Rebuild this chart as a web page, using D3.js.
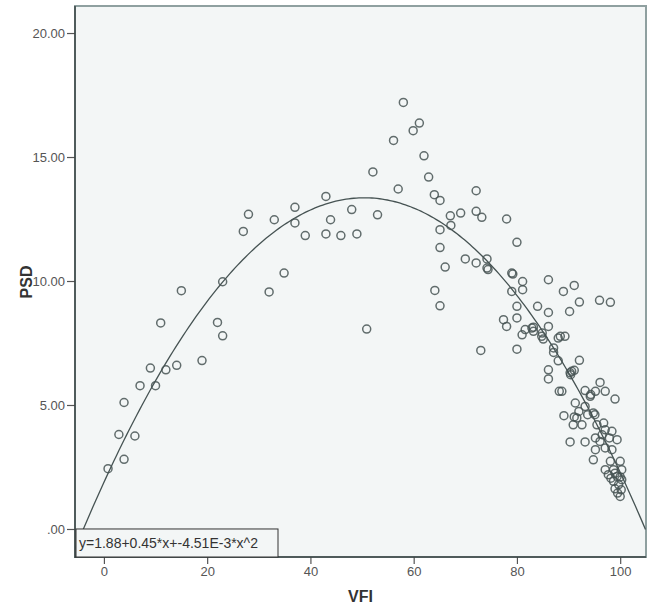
<!DOCTYPE html>
<html>
<head>
<meta charset="utf-8">
<script src="https://cdnjs.cloudflare.com/ajax/libs/d3/7.8.5/d3.min.js"></script>
<style>
body { margin: 0; background: #fff; }
svg text { font-family: "Liberation Sans", Arial, sans-serif; }
</style>
</head>
<body>
<div></div>
<script>
var vfi = [
	0.8, 3.9, 2.9, 6.0, 3.9, 7.0, 10.0, 9.0, 12.0, 14.1, 19.0, 11.0, 22.0, 23.0, 15.0, 23.0,
	32.0, 34.9, 27.0, 28.0, 33.0, 37.0, 37.0, 39.0, 43.0, 43.0, 43.9, 45.9, 49.0, 48.0,
	53.0, 52.1, 57.0, 56.1, 58.0, 59.9, 61.1, 62.0, 62.9, 64.0, 65.1, 67.1, 69.1, 67.2,
	65.1, 65.1, 66.1, 64.1, 65.1, 72.1, 72.1, 73.2, 78.0, 80.0, 70.0, 72.1, 74.2, 74.2,
	74.4, 79.0, 79.2, 81.1, 79.0, 81.1, 86.1, 89.0, 91.1, 92.1, 96.0, 98.1, 80.0, 84.0,
	90.2, 86.1, 50.9, 73.0, 77.4, 78.0, 80.0, 81.6, 82.9, 83.2, 84.9, 86.1, 85.1, 88.0,
	89.3, 87.1, 80.0, 87.1, 88.0, 92.1, 90.6, 90.3, 91.1, 86.1, 86.1, 90.4, 88.2, 93.2,
	94.3, 96.1, 97.1, 95.2, 99.0, 91.3, 93.2, 92.0, 89.1, 91.1, 93.7, 95.1, 81.0, 84.8,
	88.4, 83.2, 88.7, 94.2,
	91.6, 94.8, 90.9, 92.6, 95.5, 96.8, 98.4, 97.1, 96.5, 90.3, 93.2, 95.2, 96.1, 97.9,
	99.4, 95.2, 97.1, 98.4, 94.8, 98.1, 100.0, 97.1, 98.7, 100.3, 97.7, 99.4, 100.3, 98.7,
	99.7, 100.2, 100.0, 99.0, 100.0, 99.5, 98.2, 99.0
];
var psd = [
	2.43, 2.81, 3.81, 3.75, 5.10, 5.78, 5.78, 6.49, 6.42, 6.60, 6.79, 8.31, 8.33, 7.79, 9.61, 9.97,
	9.56, 10.32, 12.00, 12.69, 12.47, 12.97, 12.34, 11.83, 13.41, 11.90, 12.47, 11.83, 11.90, 12.88,
	12.67, 14.40, 13.71, 15.67, 17.20, 16.06, 16.37, 15.05, 14.19, 13.48, 13.25, 12.63, 12.74, 12.24,
	12.07, 11.35, 10.56, 9.62, 9.00, 13.64, 12.81, 12.57, 12.50, 11.56, 10.89, 10.73, 10.89, 10.52,
	10.46, 10.32, 10.28, 9.98, 9.58, 9.65, 10.05, 9.58, 9.82, 9.15, 9.22, 9.14, 8.98, 8.98,
	8.77, 8.73, 8.06, 7.20, 8.44, 8.17, 8.51, 8.04, 8.10, 8.14, 7.90, 8.17, 7.66, 7.70,
	7.77, 7.30, 7.25, 7.12, 6.78, 6.80, 6.36, 6.30, 6.40, 6.42, 6.05, 6.22, 5.55, 5.58,
	5.42, 5.91, 5.55, 5.55, 5.24, 5.08, 4.94, 4.74, 4.57, 4.52, 4.61, 4.61, 7.83, 7.77,
	7.77, 7.97, 5.55, 5.35,
	4.48, 4.68, 4.20, 4.20, 4.20, 4.27, 3.94, 4.00, 3.80, 3.51, 3.51, 3.67, 3.53, 3.67,
	3.60, 3.20, 3.27, 3.20, 2.79, 2.73, 2.73, 2.39, 2.39, 2.39, 2.19, 2.12, 1.99, 1.92,
	1.79, 1.58, 1.31, 2.25, 2.10, 1.45, 2.05, 1.62
];

// label shows rounded coefficients; the drawn curve sits a bit higher
var fitCoef = [1.88, 0.455, -4.51e-3];
var fitLabel = "y=1.88+0.45*x+-4.51E-3*x^2";
var xTicks = [0, 20, 40, 60, 80, 100];
var yTicks = [0, 5, 10, 15, 20];
var xTitle = "VFI", yTitle = "PSD";

var svgContainer,
	width = 654,
	height = 615,
	plot = { left: 75, right: 646, top: 6, bottom: 557 },
	ink = "#465353";

function onLoad() {
	svgContainer = d3.select("div")
	.append("svg")
	.attr("width", width)
	.attr("height", height);

	var xScale = d3.scaleLinear().domain([-5.6, 105]).range([plot.left, plot.right]);
	var yScale = d3.scaleLinear().domain([-1.13, 21.09]).range([plot.bottom, plot.top]);

	// plot background and frame
	svgContainer.append("rect")
	.attr("x", plot.left)
	.attr("y", plot.top)
	.attr("width", plot.right - plot.left)
	.attr("height", plot.bottom - plot.top)
	.attr("fill", "#f3f6f6")
	.attr("stroke", "#8fa0a0")
	.attr("stroke-width", 2);

	svgContainer.append("clipPath").attr("id", "clip")
	.append("rect")
	.attr("x", plot.left)
	.attr("y", plot.top)
	.attr("width", plot.right - plot.left)
	.attr("height", plot.bottom - plot.top);

	drawAxes(xScale, yScale);
	drawPoints(xScale, yScale);
	drawFit(xScale, yScale);
	drawLegend(xScale, yScale);
	drawTitles();
}

function drawAxes(xScale, yScale) {
	var xAxis = d3.axisBottom(xScale).tickValues(xTicks).tickSize(7).tickPadding(3).tickFormat(d3.format("d"));
	var yAxis = d3.axisLeft(yScale).tickValues(yTicks).tickSize(8).tickPadding(2)
		.tickFormat(d => d === 0 ? ".00" : d.toFixed(2));

	var xg = svgContainer.append("g")
	.attr("transform", "translate(0," + plot.bottom + ")")
	.call(xAxis);
	var yg = svgContainer.append("g")
	.attr("transform", "translate(" + plot.left + ",0)")
	.call(yAxis);

	[xg, yg].forEach(g => {
		g.select(".domain").remove();
		g.selectAll(".tick line").attr("stroke", "#555").attr("stroke-width", 1.2);
		g.selectAll(".tick text")
		.attr("fill", "#555")
		.style("font-size", "13px")
		.style("font-family", "Liberation Sans, Arial, sans-serif");
	});

	svgContainer.append("line")
	.attr("x1", plot.left).attr("x2", plot.left)
	.attr("y1", plot.top).attr("y2", plot.bottom + 1)
	.attr("stroke", "#3a4444").attr("stroke-width", 1.5);
	svgContainer.append("line")
	.attr("x1", plot.left).attr("x2", plot.right)
	.attr("y1", plot.bottom).attr("y2", plot.bottom)
	.attr("stroke", "#3a4444").attr("stroke-width", 1.5);
}

function drawPoints(xScale, yScale) {
	var points = vfi.map((v, i) => ({ x: v, y: psd[i] }));
	svgContainer.append("g")
	.selectAll("circle")
	.data(points)
	.enter()
	.append("circle")
	.attr("cx", d => xScale(d.x))
	.attr("cy", d => yScale(d.y))
	.attr("r", 4)
	.attr("fill", "none")
	.attr("stroke", ink)
	.attr("stroke-opacity", 0.85)
	.attr("stroke-width", 1.5);
}

function drawFit(xScale, yScale) {
	var fit = x => fitCoef[0] + fitCoef[1] * x + fitCoef[2] * x * x;
	var xs = d3.range(xScale.domain()[0], xScale.domain()[1] + 0.01, 0.5);
	var line = d3.line().x(d => xScale(d)).y(d => yScale(fit(d)));
	svgContainer.append("path")
	.datum(xs)
	.attr("d", line)
	.attr("clip-path", "url(#clip)")
	.attr("fill", "none")
	.attr("stroke", ink)
	.attr("stroke-width", 1.3);
}

function drawLegend(xScale, yScale) {
	var top = yScale(0);
	var g = svgContainer.append("g");
	g.append("rect")
	.attr("x", plot.left + 1)
	.attr("y", top)
	.attr("width", 202)
	.attr("height", plot.bottom - top)
	.attr("fill", "#f3f6f6")
	.attr("stroke", "#333")
	.attr("stroke-width", 1);
	g.append("text")
	.attr("x", plot.left + 4)
	.attr("y", top + 19)
	.attr("fill", "#333")
	.style("font-size", "14px")
	.text(fitLabel);
}

function drawTitles() {
	svgContainer.append("text")
	.attr("x", (plot.left + plot.right) / 2)
	.attr("y", 602)
	.attr("text-anchor", "middle")
	.attr("fill", "#333")
	.style("font-size", "16px")
	.style("font-weight", "bold")
	.text(xTitle);

	svgContainer.append("text")
	.attr("transform", "translate(32,282) rotate(-90)")
	.attr("text-anchor", "middle")
	.attr("fill", "#333")
	.style("font-size", "16px")
	.style("font-weight", "bold")
	.text(yTitle);
}

onLoad();
</script>
</body>
</html>
